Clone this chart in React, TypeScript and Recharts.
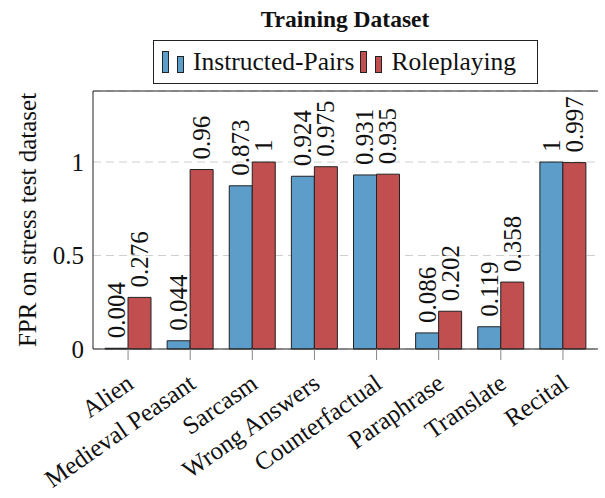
import React from "react";
import {
  BarChart,
  Bar,
  XAxis,
  YAxis,
  CartesianGrid,
  LabelList,
  Legend,
  ReferenceLine,
} from "recharts";

const categories = [
  "Alien",
  "Medieval Peasant",
  "Sarcasm",
  "Wrong Answers",
  "Counterfactual",
  "Paraphrase",
  "Translate",
  "Recital",
];
const instructedPairs = [0.004, 0.044, 0.873, 0.924, 0.931, 0.086, 0.119, 1];
const roleplaying = [0.276, 0.96, 1, 0.975, 0.935, 0.202, 0.358, 0.997];
const yTicks = [0, 0.5, 1];
const yMax = 1.38;
const seriesNames = ["Instructed-Pairs", "Roleplaying"];

const BLUE = "#5d9dca";
const RED = "#c24f50";
const SERIF = "'Liberation Serif', 'Times New Roman', serif";

const data = categories.map((name, i) => ({
  name,
  ip: instructedPairs[i],
  rp: roleplaying[i],
}));

const ValueLabel = (props: any) => {
  const { x, y, width, value } = props;
  const cx = x + width / 2;
  const ty = y - 10;
  return (
    <text
      x={cx}
      y={ty}
      transform={`rotate(-90 ${cx} ${ty})`}
      textAnchor="start"
      dominantBaseline="central"
      fontSize={25}
      fontFamily={SERIF}
      fill="#111"
    >
      {String(value)}
    </text>
  );
};

const CategoryTick = (props: any) => {
  const { x, payload } = props;
  const tx = x + 7;
  const ty = 387;
  return (
    <text
      x={tx}
      y={ty}
      transform={`rotate(-35 ${tx} ${ty})`}
      textAnchor="end"
      fontSize={25}
      fontFamily={SERIF}
      fill="#111"
    >
      {payload.value}
    </text>
  );
};

const LegendIcon = ({ color }: { color: string }) => (
  <svg width={31} height={22} style={{ display: "block" }}>
    <rect x={0.5} y={0.5} width={6} height={21} fill={color} stroke="#222" />
    <rect x={15.5} y={5.5} width={6} height={16} fill={color} stroke="#222" />
  </svg>
);

const LegendBox = () => (
  <div
    style={{
      boxSizing: "border-box",
      width: 385,
      height: 44,
      border: "1px solid #222",
      display: "flex",
      alignItems: "center",
      paddingLeft: 8,
      fontFamily: SERIF,
      fontSize: 25.5,
      color: "#111",
      background: "#fff",
    }}
  >
    {seriesNames.map((n, i) => (
      <div key={n} style={{ display: "flex", alignItems: "flex-end", marginRight: 6 }}>
        <div style={{ paddingBottom: 3 }}>
          <LegendIcon color={i === 0 ? BLUE : RED} />
        </div>
        <span style={{ lineHeight: "28px" }}>{n}</span>
      </div>
    ))}
  </div>
);

export default function App() {
  return (
    <div
      style={{
        position: "absolute",
        left: 0,
        top: 0,
        width: 605,
        height: 498,
        background: "#fff",
      }}
    >
      <div
        style={{
          position: "absolute",
          left: 245,
          width: 200,
          top: 7,
          textAlign: "center",
          fontFamily: SERIF,
          fontWeight: "bold",
          fontSize: 23.5,
          lineHeight: "24px",
          color: "#111",
        }}
      >
        Training Dataset
      </div>
      <BarChart
        width={605}
        height={498}
        data={data}
        margin={{ top: 91, right: 7, bottom: 89, left: 20 }}
        barCategoryGap={8}
        barGap={0}
      >
        <CartesianGrid
          vertical={false}
          stroke="#cfcfcf"
          strokeDasharray="8 5"
        />
        <XAxis
          dataKey="name"
          interval={0}
          height={60}
          padding={{ left: 4, right: 4 }}
          tickSize={11}
          tickLine={{ stroke: "#888" }}
          axisLine={{ stroke: "#222" }}
          tick={<CategoryTick />}
        />
        <YAxis
          width={73}
          domain={[0, yMax]}
          ticks={yTicks}
          tickSize={6}
          tickMargin={3}
          tickLine={false}
          axisLine={{ stroke: "#222" }}
          tick={{ fontSize: 25, fontFamily: SERIF, fill: "#111" }}
          label={{
            value: "FPR on stress test dataset",
            angle: -90,
            position: "insideLeft",
            offset: 7,
            style: {
              textAnchor: "middle",
              fontSize: 25,
              fontFamily: SERIF,
              fill: "#111",
            },
          }}
        />
        <YAxis
          yAxisId="right"
          orientation="right"
          width={0}
          domain={[0, yMax]}
          tick={false}
          tickLine={false}
          axisLine={{ stroke: "#222" }}
        />
        <ReferenceLine y={yMax} stroke="#222" strokeWidth={1} />
        <Legend
          layout="horizontal"
          verticalAlign="middle"
          align="center"
          wrapperStyle={{ left: 153, top: 40, width: 385, height: 44 }}
          content={() => <LegendBox />}
        />
        <Bar
          dataKey="ip"
          name={seriesNames[0]}
          fill={BLUE}
          stroke="#222"
          strokeWidth={1}
          isAnimationActive={false}
        >
          <LabelList dataKey="ip" content={<ValueLabel />} />
        </Bar>
        <Bar
          dataKey="rp"
          name={seriesNames[1]}
          fill={RED}
          stroke="#222"
          strokeWidth={1}
          isAnimationActive={false}
        >
          <LabelList dataKey="rp" content={<ValueLabel />} />
        </Bar>
      </BarChart>
    </div>
  );
}
